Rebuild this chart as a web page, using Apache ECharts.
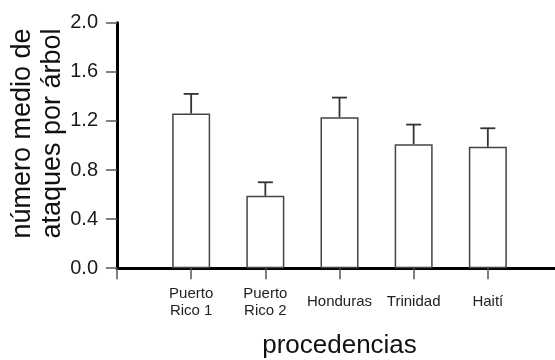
<!DOCTYPE html>
<html>
<head>
<meta charset="utf-8">
<script src="https://cdn.jsdelivr.net/npm/echarts@6/dist/echarts.min.js"></script>
<style>
html,body{margin:0;padding:0;background:#fff;}
#c{width:555px;height:360px;}
</style>
</head>
<body>
<div id="c"></div>
<script>
const categories = ['Puerto\nRico 1', 'Puerto\nRico 2', 'Honduras', 'Trinidad', 'Haití'];
const means = [1.26, 0.59, 1.23, 1.01, 0.99];
const errorTops = [1.42, 0.70, 1.39, 1.17, 1.14];
const yTicks = [0, 0.4, 0.8, 1.2, 1.6, 2.0];

const axisCats = [''].concat(categories, ['']);
const barData = [null].concat(means, [null]);
const errData = categories.map((c, i) => [i + 1, means[i], errorTops[i]]);

const chart = echarts.init(document.getElementById('c'), null, {renderer: 'canvas'});
chart.setOption({
  animation: false,
  backgroundColor: '#fff',
  grid: {left: 117, top: 22.7, height: 245.5, width: 445, containLabel: false, outerBoundsMode: 'none'},
  xAxis: {
    type: 'category',
    data: axisCats,
    boundaryGap: false,
    name: 'procedencias',
    nameLocation: 'middle',
    nameGap: 65,
    nameMoveOverlap: false,
    nameTextStyle: {fontFamily: 'Liberation Sans, Arial, sans-serif', fontSize: 26, color: '#111'},
    axisLine: {lineStyle: {color: '#000', width: 3}},
    axisTick: {show: true, inside: false, length: 11, alignWithLabel: true, lineStyle: {color: '#555', width: 1.5}},
    axisLabel: {
      interval: 0,
      margin: 34,
      verticalAlign: 'middle',
      fontFamily: 'Liberation Sans, Arial, sans-serif',
      fontSize: 15,
      lineHeight: 17,
      color: '#222'
    },
    splitLine: {show: false}
  },
  yAxis: {
    type: 'value',
    min: 0,
    max: 2.0,
    interval: 0.4,
    name: 'número medio de\nataques por árbol',
    nameLocation: 'middle',
    nameGap: 49,
    nameMoveOverlap: false,
    nameRotate: 90,
    nameTextStyle: {fontFamily: 'Liberation Sans, Arial, sans-serif', fontSize: 27, lineHeight: 30, color: '#111', padding: [0, 0, 0, 24]},
    axisLine: {show: true, lineStyle: {color: '#000', width: 3}},
    axisTick: {show: true, inside: false, length: 11, lineStyle: {color: '#555', width: 1.5}},
    axisLabel: {
      margin: 19,
      fontFamily: 'Liberation Sans, Arial, sans-serif',
      fontSize: 20,
      color: '#1a1a1a',
      formatter: v => v.toFixed(1)
    },
    splitLine: {show: false}
  },
  series: [
    {
      type: 'bar',
      data: barData,
      barWidth: 38,
      itemStyle: {color: '#fff', borderColor: '#444', borderWidth: 1.5},
      z: 2
    },
    {
      type: 'custom',
      data: errData,
      z: 3,
      renderItem: function (params, api) {
        const x = api.value(0);
        const base = api.coord([x, api.value(1)]);
        const top = api.coord([x, api.value(2)]);
        const hw = 7.5;
        return {
          type: 'group',
          children: [
            {type: 'line', shape: {x1: base[0], y1: base[1], x2: top[0], y2: top[1]}, style: {stroke: '#333', lineWidth: 1.8}},
            {type: 'line', shape: {x1: top[0] - hw, y1: top[1], x2: top[0] + hw, y2: top[1]}, style: {stroke: '#333', lineWidth: 1.8}}
          ]
        };
      }
    }
  ]
});
</script>
</body>
</html>
